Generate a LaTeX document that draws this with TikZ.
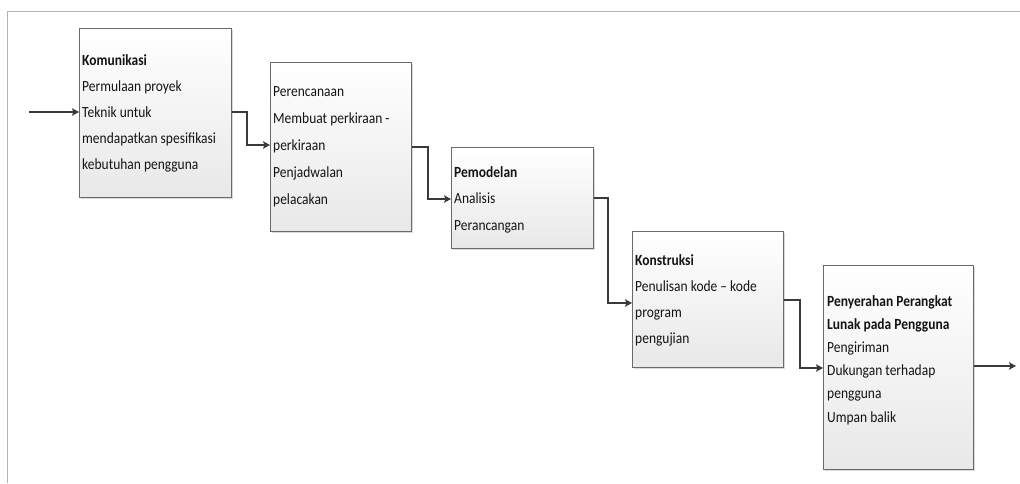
\documentclass[tikz,border=0pt]{standalone}
\usepackage{fontspec}
\setmainfont[FakeStretch=0.87]{Carlito}
\usetikzlibrary{arrows.meta,calc,shadows}
\definecolor{conncol}{HTML}{3A3A3A}
\definecolor{boxline}{HTML}{6A6A6A}
\definecolor{txtcol}{HTML}{141414}
\tikzset{
  stagebox/.style={draw=boxline, line width=0.9pt, rectangle, anchor=north west, inner sep=0pt,
    top color=white, bottom color=black!9,
    drop shadow={shadow xshift=2pt, shadow yshift=-2pt, opacity=0.25, fill=black!60}},
  stagetext/.style={anchor=north west, inner sep=0pt, align=left, text=txtcol},
  conn/.style={draw=conncol, line width=2.1pt, -{Stealth[length=7pt,width=7.5pt,inset=1.5pt]}},
  frameline/.style={draw=black!30, line width=1pt}
}
\begin{document}
\begin{tikzpicture}[x=1pt,y=-1pt]
\useasboundingbox (0,0) rectangle (1020,483);
\draw[frameline] (7.5,483) -- (7.5,11) -- (1020,11);
% boxes
\node[stagebox, minimum width=152pt, minimum height=169pt] (b1) at (79,28) {};
\node[stagebox, minimum width=141pt, minimum height=169pt] (b2) at (270,62) {};
\node[stagebox, minimum width=142pt, minimum height=101pt] (b3) at (451,147) {};
\node[stagebox, minimum width=151pt, minimum height=136pt] (b4) at (632,231) {};
\node[stagebox, minimum width=150pt, minimum height=204pt] (b5) at (823,265) {};
% texts
\node[stagetext, font=\fontsize{15.5}{26.2}\selectfont] (t1) at (82,54)
  {\textbf{Komunikasi}\\Permulaan proyek\\Teknik untuk\\mendapatkan spesifikasi\\kebutuhan pengguna};
\node[stagetext, font=\fontsize{15.5}{27}\selectfont] (t2) at (273,86)
  {Perencanaan\\Membuat perkiraan -\\perkiraan\\Penjadwalan\\pelacakan};
\node[stagetext, font=\fontsize{15.5}{26.5}\selectfont] (t3) at (454,166)
  {\textbf{Pemodelan}\\Analisis\\Perancangan};
\node[stagetext, font=\fontsize{15.5}{26.3}\selectfont] (t4) at (635,254)
  {\textbf{Konstruksi}\\Penulisan kode -- kode\\program\\pengujian};
\node[stagetext, font=\fontsize{15.5}{23.2}\selectfont] (t5) at (827,295)
  {\textbf{Penyerahan Perangkat}\\\textbf{Lunak pada Pengguna}\\Pengiriman\\Dukungan terhadap\\pengguna\\Umpan balik};
% connectors
\coordinate (inp) at (29,112);
\coordinate (outp) at (1016,366);
\draw[conn] (inp) -- ($(b1.north west)+(0,84)$);
\draw[conn] ($(b1.north east)+(0,84)$) -- ++(15,0) |- ($(b2.north west)+(0,83)$);
\draw[conn] ($(b2.north east)+(0,85)$) -- ++(16,0) |- ($(b3.north west)+(0,52)$);
\draw[conn] ($(b3.north east)+(0,51)$) -- ++(14,0) |- ($(b4.north west)+(0,72)$);
\draw[conn] ($(b4.north east)+(0,69)$) -- ++(16,0) |- ($(b5.north west)+(0,103)$);
\draw[conn] ($(b5.north east)+(0,101)$) -- (outp);
\end{tikzpicture}
\end{document}
